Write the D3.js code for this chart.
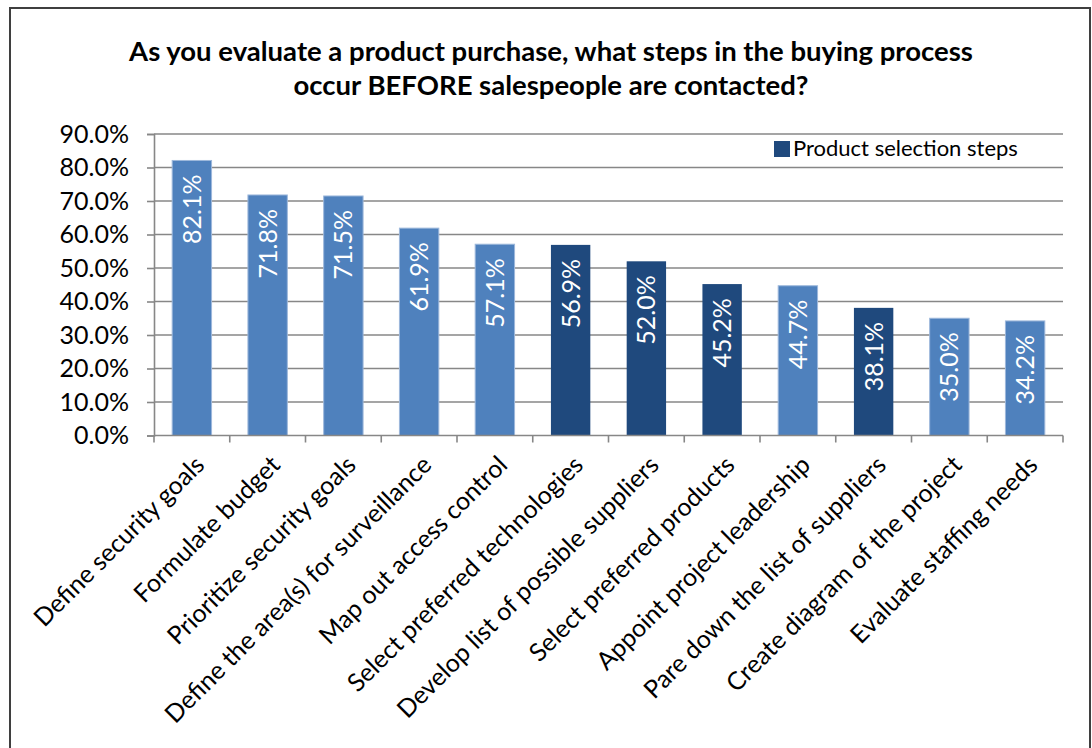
<!DOCTYPE html>
<html>
<head>
<meta charset="utf-8">
<script src="https://cdn.jsdelivr.net/npm/d3@7"></script>
<style>
  html, body { margin: 0; padding: 0; background: #fff; }
  svg { display: block; }
  text { font-family: Lato, "Open Sans", "Liberation Sans", sans-serif; }
</style>
</head>
<body>
<svg id="chart" width="1092" height="748"></svg>
<script>
// Survey answers: share of respondents doing each step before contacting sales
const categories = [
  "Define security goals",
  "Formulate budget",
  "Prioritize security goals",
  "Define the area(s) for surveillance",
  "Map out access control",
  "Select preferred technologies",
  "Develop list of possible suppliers",
  "Select preferred products",
  "Appoint project leadership",
  "Pare down the list of suppliers",
  "Create diagram of the project",
  "Evaluate staffing needs"
];
const values = [0.821, 0.718, 0.715, 0.619, 0.571, 0.569, 0.520, 0.452, 0.447, 0.381, 0.350, 0.342];
// Steps that belong to product selection
const selectionSteps = [false, false, false, false, false, true, true, true, false, true, false, false];
const yTicks = [0, 0.1, 0.2, 0.3, 0.4, 0.5, 0.6, 0.7, 0.8, 0.9];
const titleLines = [
  "As you evaluate a product purchase, what steps in the buying process",
  "occur BEFORE salespeople are contacted?"
];
const legendLabel = "Product selection steps";

const colors = { base: "#4F81BD", baseEdge: "#9DB8DB", selection: "#1F497D", grid: "#878787" };

const svg = d3.select("#chart");
const plot = { left: 154, right: 1063, top: 134, bottom: 435.5 };

// Outer frame
svg.append("rect")
  .attr("x", 10).attr("y", 8).attr("width", 1080).attr("height", 760)
  .attr("fill", "#fff").attr("stroke", "#3f3f3f").attr("stroke-width", 2);

// Title
svg.append("g").selectAll("text").data(titleLines).join("text")
  .attr("x", 551).attr("y", (d, i) => 61 + i * 34)
  .attr("text-anchor", "middle")
  .attr("font-size", 27.5).attr("font-weight", 700).attr("fill", "#000")
  .text(d => d);

const x = d3.scaleBand().domain(categories)
  .range([plot.left, plot.right]).paddingInner(0.48).paddingOuter(0.24);
const y = d3.scaleLinear().domain([0, 0.9]).range([plot.bottom, plot.top]);

// Horizontal gridlines
svg.append("g").selectAll("line").data(yTicks.slice(1)).join("line")
  .attr("x1", plot.left).attr("x2", plot.right)
  .attr("y1", d => y(d)).attr("y2", d => y(d))
  .attr("stroke", colors.grid).attr("stroke-width", 1.6);

// Y axis
const yAxis = svg.append("g").attr("transform", `translate(${plot.left},0)`)
  .call(d3.axisLeft(y).tickValues(yTicks).tickFormat(d3.format(".1%")).tickSize(7).tickPadding(18));
yAxis.select(".domain").attr("stroke", colors.grid).attr("stroke-width", 1.6);
yAxis.selectAll(".tick line").attr("stroke", colors.grid).attr("stroke-width", 1.6);
yAxis.selectAll(".tick text").attr("font-size", 25).attr("fill", "#000")
  .attr("font-family", "Lato, 'Open Sans', sans-serif");

// Bars
const bars = svg.append("g");
bars.selectAll("rect").data(values).join("rect")
  .attr("x", (d, i) => x(categories[i]))
  .attr("y", d => y(d))
  .attr("width", x.bandwidth())
  .attr("height", d => y(0) - y(d))
  .attr("fill", (d, i) => selectionSteps[i] ? colors.selection : colors.base)
  .attr("stroke", (d, i) => selectionSteps[i] ? "none" : colors.baseEdge)
  .attr("stroke-width", 1);

// Value labels inside the bars, reading upwards
bars.selectAll("text").data(values).join("text")
  .attr("transform", (d, i) => `translate(${x(categories[i]) + x.bandwidth() / 2},${y(d) + 14}) rotate(-90)`)
  .attr("dy", "0.36em")
  .attr("text-anchor", "end")
  .attr("font-size", 25).attr("fill", "#fff")
  .text(d => d3.format(".1%")(d));

// X axis line and tick marks at category boundaries
const xAxis = svg.append("g");
xAxis.append("line")
  .attr("x1", plot.left).attr("x2", plot.right)
  .attr("y1", plot.bottom).attr("y2", plot.bottom)
  .attr("stroke", colors.grid).attr("stroke-width", 1.6);
xAxis.selectAll("line.tick").data(d3.range(categories.length + 1)).join("line")
  .attr("class", "tick")
  .attr("x1", i => plot.left + i * x.step()).attr("x2", i => plot.left + i * x.step())
  .attr("y1", plot.bottom).attr("y2", plot.bottom + 7)
  .attr("stroke", colors.grid).attr("stroke-width", 1.6);

// Rotated category labels
xAxis.selectAll("text").data(categories).join("text")
  .attr("transform", d => `translate(${x(d) + x.bandwidth() / 2 + 14},${plot.bottom + 31}) rotate(-45)`)
  .attr("text-anchor", "end")
  .attr("font-size", 25).attr("fill", "#000")
  .text(d => d);

// Legend
const legend = svg.append("g").attr("transform", "translate(774,141)");
legend.append("rect").attr("width", 16).attr("height", 16).attr("fill", colors.selection);
legend.append("text").attr("x", 19).attr("y", 14.5)
  .attr("font-size", 22).attr("fill", "#000").text(legendLabel);
</script>
</body>
</html>
